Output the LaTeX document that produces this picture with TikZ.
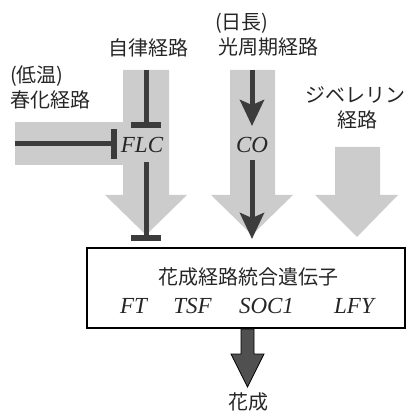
\documentclass[tikz,border=0pt]{standalone}
\usepackage{fontspec}
\setmainfont{Liberation Serif}
\newfontfamily\jpfont{Noto Sans CJK JP}
\usetikzlibrary{arrows.meta}
\definecolor{bandgray}{HTML}{CCCCCC}
\definecolor{darkline}{HTML}{3C3C3C}
\definecolor{arrowfill}{HTML}{505050}
\tikzset{
  jptext/.style={font=\jpfont\fontsize{20}{22}\selectfont, text=black!85, inner sep=0pt},
  gene/.style={font=\itshape\fontsize{23}{25}\selectfont, text=black!85, inner sep=0pt, anchor=base},
  band/.style={fill=bandgray, draw=none},
  inhib/.style={draw=darkline, line width=5pt},
  tbar/.style={draw=darkline, line width=6pt},
  promote/.style={draw=darkline, line width=5pt, -{Stealth[length=26pt,width=24pt,inset=5pt]}},
}
\begin{document}
\begin{tikzpicture}[x=1pt,y=-1pt]
\useasboundingbox (0,0) rectangle (407,411);
% gray pathway arrows
\fill[band] (15,122) rectangle (124,165);
\fill[band] (123,70) -- (169,70) -- (169,195) -- (187,195) -- (146,235) -- (105,195) -- (123,195) -- cycle;
\fill[band] (230,70) -- (275,70) -- (275,195) -- (293,195) -- (252,235) -- (211,195) -- (230,195) -- cycle;
\fill[band] (335,147) -- (380,147) -- (380,195) -- (398,195) -- (357,237) -- (315,195) -- (335,195) -- cycle;
% labels
\node[jptext] (auto) at (148,48) {自律経路};
\node[jptext, anchor=west] (ltemp) at (10,76) {(低温)};
\node[jptext, anchor=west] (vern) at (10,100) {春化経路};
\node[jptext, anchor=west] (lday) at (215,23) {(日長)};
\node[jptext] (photo) at (268,47) {光周期経路};
\node[jptext] (gib) at (355,95) {ジベレリン};
\node[jptext] (gib2) at (357,120) {経路};
\node[gene] (flc) at (142,153) {FLC};
\node[gene] (co) at (252,153) {CO};
% integrator box
\node[draw=black, line width=2pt, minimum width=318pt, minimum height=80pt, inner sep=0pt] (box) at (246,288) {};
\node[jptext] (title) at (248,277) {花成経路統合遺伝子};
\node[gene] (ft) at (133.5,313) {FT};
\node[gene] (tsf) at (192.5,313) {TSF};
\node[gene] (soc) at (266.5,313) {SOC1};
\node[gene] (lfy) at (354,313) {LFY};
\node[jptext] (flower) at (248,402) {花成};
% coordinates for regulatory lines
\coordinate (autoS) at (146,70);
\coordinate (autoE) at (146,125);
\coordinate (vernS) at (15,144);
\coordinate (vernE) at (112,144);
\coordinate (flcS) at (146,162);
\coordinate (flcE) at (146,238);
\coordinate (coS) at (252,70);
\coordinate (coE) at (252,126);
\coordinate (co2S) at (252,160);
\coordinate (co2E) at (252,239);
% inhibition lines
\draw[inhib] (autoS) -- (autoE);
\draw[tbar] ([xshift=-15pt]autoE) -- ([xshift=15pt]autoE);
\draw[inhib] (vernS) -- (vernE);
\draw[tbar] ([xshift=2pt,yshift=-15pt]vernE) -- ([xshift=2pt,yshift=15pt]vernE);
\draw[inhib] (flcS) -- (flcE);
\draw[tbar] ([xshift=-15pt]flcE) -- ([xshift=15pt]flcE);
% promotion arrows
\draw[promote] (coS) -- (coE);
\draw[promote] (co2S) -- (co2E);
% flowering arrow
\draw[fill=arrowfill, draw=black, line width=0.8pt]
  (box.south -| 241,0) -- (241,354) -- (231,354) -- (247.5,387) -- (264,354) -- (254,354) -- (box.south -| 254,0) -- cycle;
\end{tikzpicture}
\end{document}
